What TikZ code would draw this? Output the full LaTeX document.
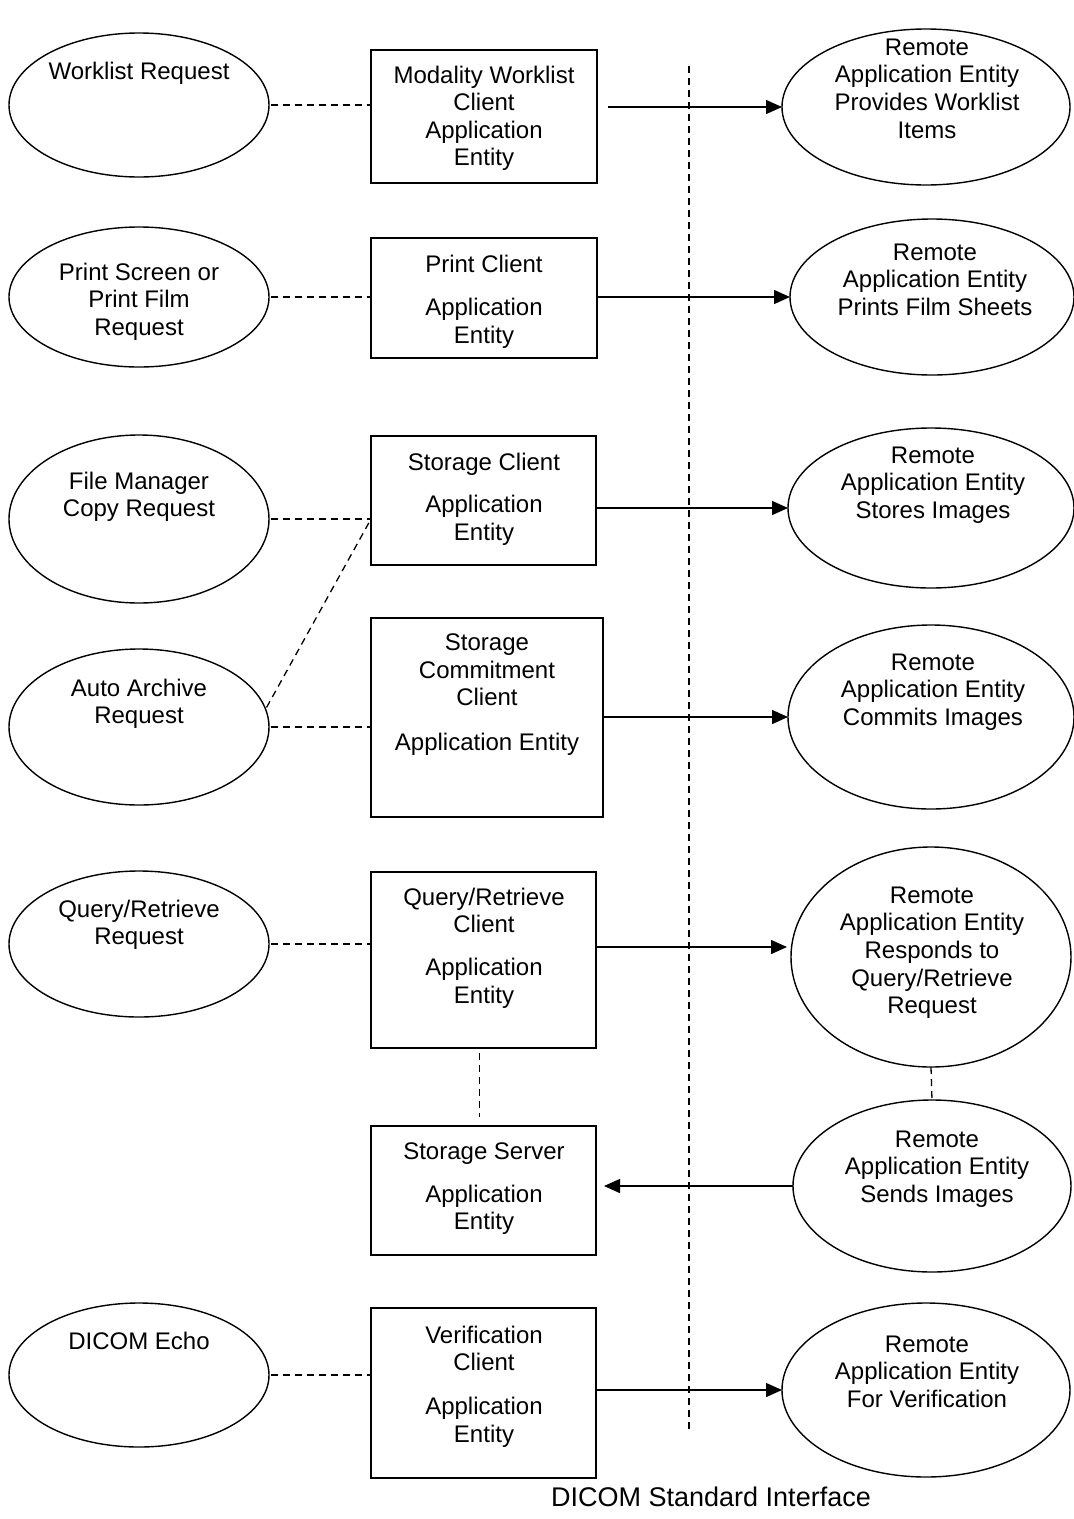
\documentclass[tikz,border=0pt]{standalone}
\usepackage{fontspec}
\setmainfont{Liberation Sans}
\usetikzlibrary{shapes.geometric,arrows.meta,calc}
\begin{document}
\begin{tikzpicture}[x=1pt,y=-1pt,
  every node/.style={inner sep=0pt,outer sep=0pt},
  oval/.style={draw,ellipse,line width=1.4pt},
  box/.style={draw,rectangle,line width=1.6pt},
  txt/.style={font=\fontsize{24}{27.6}\selectfont,align=center,anchor=north,yshift=17.8pt,
    execute at begin node={\rule{0pt}{20pt}}},
  dsh/.style={line width=1.3pt,dash pattern=on 7pt off 5pt},
  arr/.style={line width=1.4pt,-{Triangle[length=16pt,width=14pt]}}]
\fill[white] (0,0) rectangle (1074,1519);
\useasboundingbox (0,0) rectangle (1074,1519);

% left ellipses
\node[oval,minimum width=260pt,minimum height=144pt] (L1) at (139,105) {};
\node[oval,minimum width=260pt,minimum height=140pt] (L2) at (139,297) {};
\node[oval,minimum width=260pt,minimum height=168pt] (L3) at (139,519) {};
\node[oval,minimum width=260pt,minimum height=156pt] (L4) at (139,727) {};
\node[oval,minimum width=260pt,minimum height=146pt] (L5) at (139,944) {};
\node[oval,minimum width=260pt,minimum height=144pt] (L6) at (139,1375) {};
\node[txt] (tL1) at (139,77.6) {Worklist Request};
\node[txt] (tL2) at (139,280.6) {Print Screen or\\Print Film\\Request};
\node[txt] (tL3) at (139,489.6) {File Manager\\Copy Request};
\node[txt] (tL4) at (139,696.6) {Auto Archive\\Request};
\node[txt] (tL5) at (139,917.6) {Query/Retrieve\\Request};
\node[txt] (tL6) at (139,1347) {DICOM Echo};

% boxes
\node[box,minimum width=226pt,minimum height=133pt] (B1) at (484,116.5) {};
\node[box,minimum width=226pt,minimum height=120pt] (B2) at (484,298) {};
\node[box,minimum width=225pt,minimum height=129pt] (B3) at (483.5,500.5) {};
\node[box,minimum width=232pt,minimum height=199pt] (B4) at (487,717.5) {};
\node[box,minimum width=225pt,minimum height=176pt] (B5) at (483.5,960) {};
\node[box,minimum width=225pt,minimum height=129pt] (B6) at (483.5,1190.5) {};
\node[box,minimum width=225pt,minimum height=170pt] (B7) at (483.5,1393) {};
\node[txt] (tB1) at (484,83.6) {Modality Worklist\\Client\\Application\\Entity};
\node[txt] (tB2) at (484,272.6) {Print Client\\[16pt]Application\\Entity};
\node[txt] (tB3) at (484,470.6) {Storage Client\\[15pt]Application\\Entity};
\node[txt] (tB4) at (487,651.6) {Storage\\Commitment\\Client\\[17pt]Application Entity};
\node[txt] (tB5) at (484,905.6) {Query/Retrieve\\Client\\[15pt]Application\\Entity};
\node[txt] (tB6) at (484,1160.6) {Storage Server\\[15pt]Application\\Entity};
\node[txt] (tB7) at (484,1343.6) {Verification\\Client\\[16pt]Application\\Entity};

% right ellipses
\node[oval,minimum width=288pt,minimum height=156pt] (R1) at (926,107) {};
\node[oval,minimum width=284pt,minimum height=156pt] (R2) at (932,297) {};
\node[oval,minimum width=286pt,minimum height=160pt] (R3) at (931,508) {};
\node[oval,minimum width=286pt,minimum height=184pt] (R4) at (931,717) {};
\node[oval,minimum width=280pt,minimum height=220pt] (R5) at (931,957) {};
\node[oval,minimum width=278pt,minimum height=172pt] (R6) at (932,1186) {};
\node[oval,minimum width=288pt,minimum height=174pt] (R7) at (926,1390) {};
\node[txt] (tR1) at (927,56.6) {Remote\\Application Entity\\Provides Worklist\\Items};
\node[txt] (tR2) at (935,261.6) {Remote\\Application Entity\\Prints Film Sheets};
\node[txt] (tR3) at (933,464.6) {Remote\\Application Entity\\Stores Images};
\node[txt] (tR4) at (933,671.6) {Remote\\Application Entity\\Commits Images};
\node[txt] (tR5) at (932,904.6) {Remote\\Application Entity\\Responds to\\Query/Retrieve\\Request};
\node[txt] (tR6) at (937,1148.6) {Remote\\Application Entity\\Sends Images};
\node[txt] (tR7) at (927,1353.6) {Remote\\Application Entity\\For Verification};

% interface line and label
\coordinate (vt) at (689,66);
\coordinate (vb) at (689,1432);
\draw[dsh] (vt) -- (vb);
\node[font=\fontsize{27}{32}\selectfont,anchor=base] (std) at (711,1506.7) {DICOM Standard Interface};

% dashed links
\draw[dsh,shorten <=2pt] (L1.east) -- (L1.east -| B1.west);
\draw[dsh,shorten <=2pt] (L2.east) -- (L2.east -| B2.west);
\coordinate (J3) at (B3.west |- L3.east);
\draw[dsh,shorten <=2pt] (L3.east) -- (J3);
\draw[dsh,shorten <=2pt] (L4.8) -- (J3);
\draw[dsh,shorten <=2pt] (L4.east) -- (L4.east -| B4.west);
\draw[dsh,shorten <=2pt] (L5.east) -- (L5.east -| B5.west);
\draw[dsh,shorten <=2pt] (L6.east) -- (L6.east -| B7.west);
\draw[dsh] ($(B5.south)+(-4,5)$) -- ($(B6.north)+(-4,-9)$);
\draw[dsh] (R5.south) -- (R6.north);

% arrows
\draw[arr] ($(B1.east |- R1.west)+(11,0)$) -- (R1.west);
\draw[arr] (B2.east |- R2.west) -- (R2.west);
\draw[arr] (B3.east |- R3.west) -- (R3.west);
\draw[arr] (B4.east |- R4.west) -- (R4.west);
\draw[arr,shorten >=4pt] (B5.east |- 0,947) -- (R5.west |- 0,947);
\draw[arr,shorten >=8pt] (R6.west) -- (B6.east |- R6.west);
\draw[arr] (B7.east |- R7.west) -- (R7.west);
\end{tikzpicture}
\end{document}
